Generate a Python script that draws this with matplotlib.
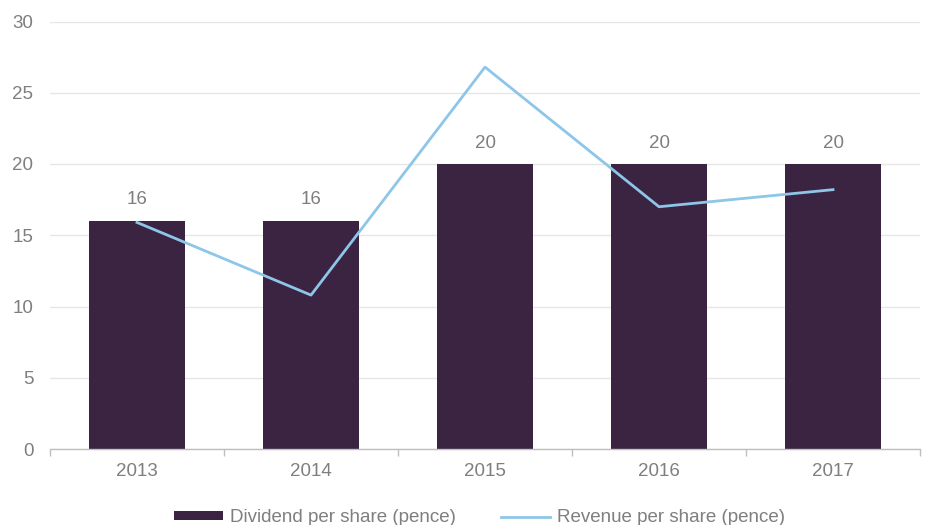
import matplotlib
matplotlib.use("Agg")
import matplotlib.pyplot as plt
from matplotlib.lines import Line2D
from matplotlib.patches import Patch
import numpy as np

years = ["2013", "2014", "2015", "2016", "2017"]
dividend = [16, 16, 20, 20, 20]
revenue = [15.9, 10.8, 26.8, 17.0, 18.2]

bar_color = "#3B2442"
line_color = "#8DC6E8"
text_color = "#7F7F7F"
fs = 13.5

plt.rcParams['font.family'] = ['Liberation Sans', 'DejaVu Sans']

fig = plt.figure(figsize=(9.28, 5.25), dpi=100)
ax = fig.add_axes([50/928, 1-449/525, 870/928, (449-21.5)/525])

x = np.arange(len(years))
ax.bar(x, dividend, width=0.55, color=bar_color, zorder=2)
ax.plot(x, revenue, color=line_color, linewidth=2, zorder=3)

for xi, v in zip(x, dividend):
    ax.annotate(f"{v}", (xi, v), xytext=(0, 9), textcoords="offset points",
                ha="center", va="bottom", fontsize=fs, color=text_color)

ax.set_xlim(-0.5, len(years) - 0.5)
ax.set_ylim(0, 30)
ax.set_yticks(range(0, 31, 5))
ax.grid(axis="y", color="#E6E6E6", linewidth=1, zorder=0)
ax.set_axisbelow(True)

ax.set_xticks(x)
ax.set_xticklabels(years)
ax.set_xticks(np.arange(-0.5, len(years), 1), minor=True)
ax.tick_params(axis="x", which="major", length=0, pad=10, labelsize=fs, labelcolor=text_color)
ax.tick_params(axis="x", which="minor", length=5, color="#BFBFBF", width=1)
ax.tick_params(axis="y", length=0, pad=12, labelsize=fs, labelcolor=text_color)

for s in ["top", "right", "left"]:
    ax.spines[s].set_visible(False)
ax.spines["bottom"].set_color("#BFBFBF")
ax.spines["bottom"].set_linewidth(1)

handles = [Patch(facecolor=bar_color, label="Dividend per share (pence)"),
           Line2D([0], [0], color=line_color, linewidth=2, label="Revenue per share (pence)")]
leg = fig.legend(handles=handles, loc="lower center", bbox_to_anchor=(0.517, -0.035), ncol=2,
                 frameon=False, fontsize=fs, handlelength=2.6, handleheight=0.35,
                 columnspacing=2.4, handletextpad=0.4)
for t in leg.get_texts():
    t.set_color(text_color)

fig.savefig("out.png", dpi=100)
